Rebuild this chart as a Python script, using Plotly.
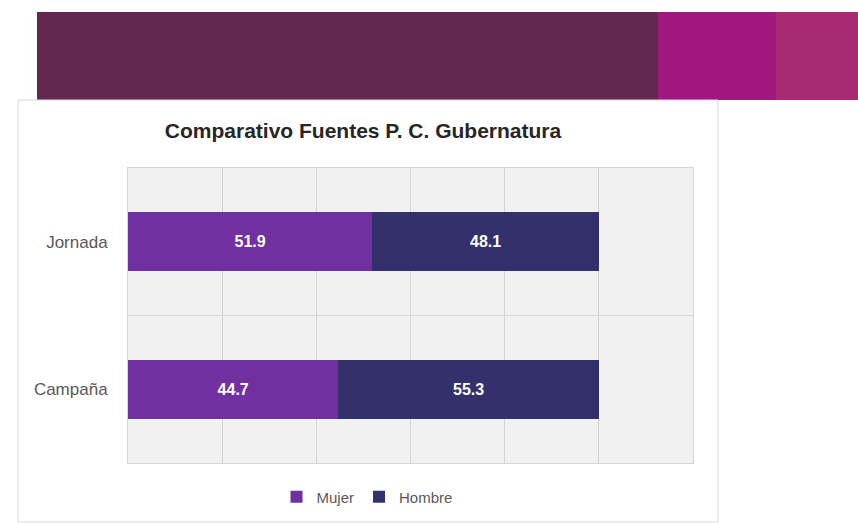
import plotly.graph_objects as go

categories = ["Campaña", "Jornada"]
mujer = [44.7, 51.9]
hombre = [55.3, 48.1]
series_names = ["Mujer", "Hombre"]

W, H = 858, 525

def px(x):
    return x / W

def py(y):
    return 1 - y / H

fig = go.Figure()
fig.add_trace(go.Bar(
    y=categories, x=mujer, name=series_names[0], orientation="h",
    marker=dict(color="#7030A0", line=dict(width=0)), width=0.4,
    texttemplate="<b>%{x:.1f}</b>", textposition="inside", insidetextanchor="middle",
    textfont=dict(color="white", size=16, family="Liberation Sans"),
))
fig.add_trace(go.Bar(
    y=categories, x=hombre, name=series_names[1], orientation="h",
    marker=dict(color="#33306C", line=dict(width=0)), width=0.4,
    texttemplate="<b>%{x:.1f}</b>", textposition="inside", insidetextanchor="middle",
    textfont=dict(color="white", size=16, family="Liberation Sans"),
))

shapes = [
    # banner
    dict(type="rect", xref="paper", yref="paper", x0=px(37), x1=px(658), y0=py(100), y1=py(12),
         fillcolor="#62284F", line=dict(width=0), layer="below"),
    dict(type="rect", xref="paper", yref="paper", x0=px(658), x1=px(776), y0=py(100), y1=py(12),
         fillcolor="#A0177F", line=dict(width=0), layer="below"),
    dict(type="rect", xref="paper", yref="paper", x0=px(776), x1=1, y0=py(100), y1=py(12),
         fillcolor="#A82A70", line=dict(width=0), layer="below"),
    # chart box
    dict(type="rect", xref="paper", yref="paper", x0=px(18), x1=px(718), y0=py(522), y1=py(100),
         fillcolor="rgba(0,0,0,0)", line=dict(width=1, color="#D9D9D9"), layer="below"),
]

fig.update_layout(
    width=W, height=H,
    margin=dict(l=0, r=0, t=0, b=0),
    paper_bgcolor="white",
    plot_bgcolor="#F1F1F1",
    barmode="stack",
    shapes=shapes,
    title=dict(text="<b>Comparativo Fuentes P. C. Gubernatura</b>", x=px(363), xanchor="center",
               y=py(131), yanchor="middle",
               font=dict(size=21, color="#262626", family="Liberation Sans")),
    xaxis=dict(domain=[px(128), px(693)], range=[0, 120], dtick=20, showticklabels=False,
               showgrid=True, gridcolor="#D4D4D4", gridwidth=1, zeroline=False, fixedrange=True,
               showline=True, linecolor="#D4D4D4", linewidth=1, mirror=True),
    yaxis=dict(domain=[py(463), py(168)], range=[-0.5, 1.5], type="category",
               categoryorder="array", categoryarray=categories,
               tickson="boundaries", showgrid=True, gridcolor="#D4D4D4", gridwidth=1,
               showline=True, linecolor="#D4D4D4", linewidth=1, mirror=True,
               ticks="", ticklabelstandoff=16, fixedrange=True,
               tickfont=dict(size=17, color="#595959", family="Liberation Sans")),
    legend=dict(orientation="h", x=px(367), xanchor="center", y=py(497), yanchor="middle",
                font=dict(size=15, color="#595959", family="Liberation Sans"),
                itemwidth=30, traceorder="normal", bgcolor="rgba(0,0,0,0)"),
    showlegend=True,
)

fig.write_html("out.html", config={"displayModeBar": False},
               post_script="document.body.style.margin='0';")
